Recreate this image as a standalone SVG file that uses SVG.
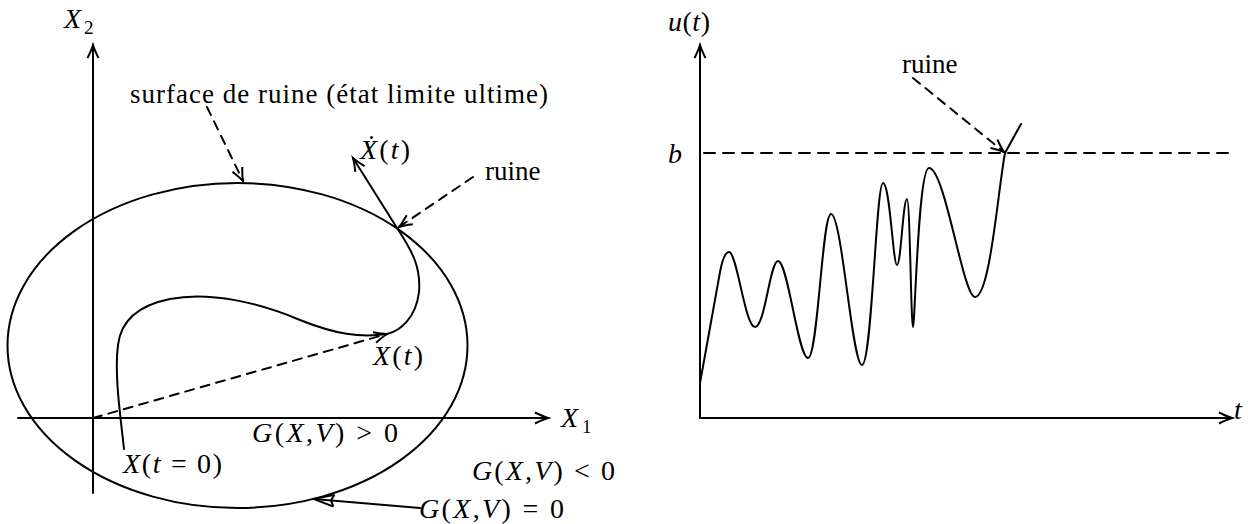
<svg xmlns="http://www.w3.org/2000/svg" width="1248" height="524" viewBox="0 0 1248 524">
<style>
.ln{fill:none;stroke:#000;stroke-width:2;stroke-linecap:round;stroke-linejoin:round}
.dash{stroke-dasharray:9 7}
.dashb{stroke-dasharray:11 8}
text{font-family:"Liberation Serif","Times New Roman",serif;fill:#000}
.tx{font-size:27px}
.m{font-size:28px}
.sub{font-size:19px}
.i{font-style:italic}
</style>
<defs>
<marker id="arr" markerUnits="userSpaceOnUse" markerWidth="20" markerHeight="14" viewBox="-15 -7 16 14" refX="0" refY="0" orient="auto">
<path d="M-13,-5.5 Q-5,-1.5 0,0 Q-5,1.5 -13,5.5" fill="none" stroke="#000" stroke-width="2"/>
</marker>
<marker id="tri" markerUnits="userSpaceOnUse" markerWidth="26" markerHeight="16" viewBox="-22 -8 23 16" refX="0" refY="0" orient="auto">
<path d="M-20,-6 L0,0 L-20,6 M-20,-6 L-17,0 L-20,6" fill="none" stroke="#000" stroke-width="2"/>
</marker>
</defs>

<g id="left-axes">
<line class="ln" x1="93" y1="493" x2="93" y2="45" marker-end="url(#arr)"/>
<line class="ln" x1="18" y1="418" x2="548" y2="418" marker-end="url(#arr)"/>
<text class="m i" x="64" y="28">X</text><text class="sub" x="84" y="34">2</text>
<text class="m i" x="561" y="427">X</text><text class="sub" x="582" y="433">1</text>
</g>

<g id="surface">
<ellipse class="ln" cx="237.5" cy="345.5" rx="230" ry="162.5"/>
<text class="tx" x="130" y="103" textLength="418" lengthAdjust="spacing">surface de ruine (état limite ultime)</text>
</g>

<g id="trajectory">
<path class="ln" d="M124,449 C121,420 114,375 118,345 C121,320 140,305 170,299 C210,291 260,303 300,320 C335,334 360,338 387,334 C400,331 416,318 419,292 C421,268 413,252 397,228"/>
<text class="m" x="123" y="473" textLength="99" lengthAdjust="spacing"><tspan class="i">X</tspan>(<tspan class="i">t</tspan> = 0)</text>
<text class="m" x="373" y="365" textLength="50" lengthAdjust="spacing"><tspan class="i">X</tspan>(<tspan class="i">t</tspan>)</text>
</g>

<g id="velocity">
<text class="m" x="360" y="159" textLength="50" lengthAdjust="spacing"><tspan class="i">Ẋ</tspan>(<tspan class="i">t</tspan>)</text>
</g>

<g id="ruine-left">
<text class="tx" x="485" y="180">ruine</text>
</g>

<g id="regions">
<text class="m" x="252" y="442" textLength="146" lengthAdjust="spacing"><tspan class="i">G</tspan>(<tspan class="i">X</tspan>,<tspan class="i">V</tspan>) &gt; 0</text>
<text class="m" x="472" y="480" textLength="143" lengthAdjust="spacing"><tspan class="i">G</tspan>(<tspan class="i">X</tspan>,<tspan class="i">V</tspan>) &lt; 0</text>
<text class="m" x="419" y="518" textLength="145" lengthAdjust="spacing"><tspan class="i">G</tspan>(<tspan class="i">X</tspan>,<tspan class="i">V</tspan>) = 0</text>
</g>

<g id="right-axes">
<line class="ln" x1="700" y1="418" x2="700" y2="45" marker-end="url(#arr)"/>
<line class="ln" x1="700" y1="418" x2="1232" y2="418" marker-end="url(#arr)"/>
<text class="m" x="668" y="31" textLength="42" lengthAdjust="spacing"><tspan class="i">u</tspan>(<tspan class="i">t</tspan>)</text>
<text class="m i" x="1234" y="419">t</text>
<text class="m i" x="668" y="163">b</text>
</g>

<g id="threshold">
<line class="ln dashb" x1="704" y1="153" x2="1232" y2="153"/>
</g>

<g id="signal">
<path class="ln" d="M700,383 L702,372 L720,272 C723,256 726,252 729,252 C737,252 745,327 755,327 C765,327 770,261 778,261 C788,261 798,358 808,358 C818,358 822,214 831,214 C842,214 852,365 862,365 C872,365 876,183 883,183 C890,183 893,265 897,265 C901,265 903,199 907,199 C910,199 911,327 913,327 C915,327 918,168 929,168 C945,168 963,297 975,297 C990,297 998,190 1005,153 L1021,124"/>
</g>

<g id="ruine-right">
<text class="tx" x="902" y="73">ruine</text>
</g>

<g id="connectors">
<line class="ln dash" x1="207" y1="107" x2="243" y2="181" marker-end="url(#arr)"/>
<line class="ln dash" x1="473" y1="177" x2="399" y2="227" marker-end="url(#arr)"/>
<line class="ln" x1="397" y1="228" x2="353" y2="158" marker-end="url(#arr)"/>
<line class="ln dash" x1="93" y1="418" x2="387" y2="334" marker-end="url(#arr)"/>
<line class="ln" x1="420" y1="508" x2="314" y2="499" marker-end="url(#tri)"/>
<line class="ln dash" x1="913" y1="78" x2="1004" y2="152" marker-end="url(#arr)"/>
</g>
</svg>
